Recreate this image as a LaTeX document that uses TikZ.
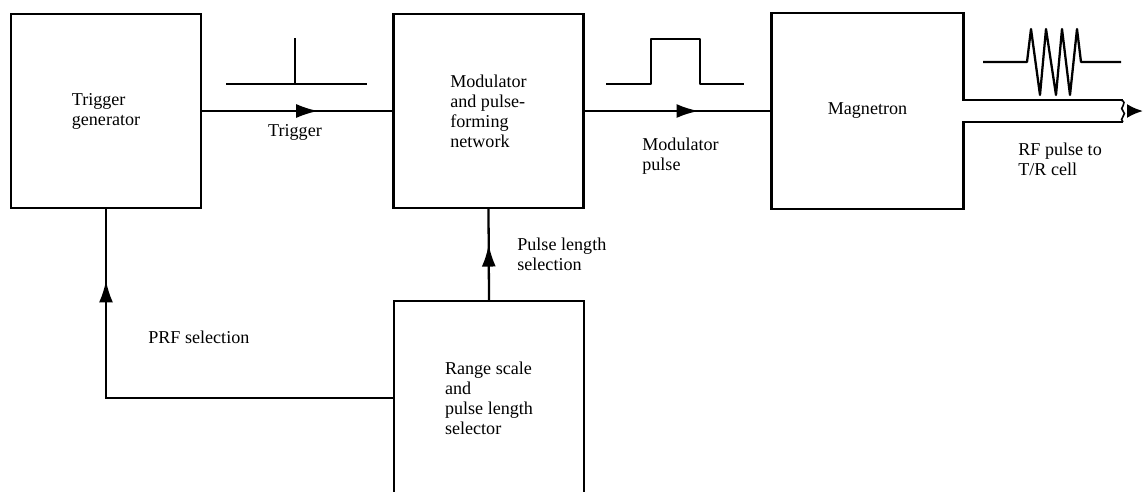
\documentclass[tikz,border=0pt]{standalone}
\usepackage{fontspec}
\setmainfont{Liberation Serif}
\usetikzlibrary{positioning, calc, arrows.meta, decorations.markings}

\begin{document}
\begin{tikzpicture}[
    x=0.02cm, y=-0.02cm,
    font=\fontsize{10.3}{11.4}\selectfont,
    block/.style={draw, line width=1.3pt, align=left,
                  minimum width=3.8cm, minimum height=3.88cm},
    flow/.style={line width=1.3pt, postaction={decorate},
                 decoration={markings, mark=at position #1 with
                   {\arrow{Latex[length=4.4mm, width=2.8mm]}}}},
    wave/.style={line width=1.3pt, line join=round},
    lbl/.style={inner sep=0pt, align=left, anchor=north west},
  ]
  \clip (0,0) rectangle (1143,491);

  % ---------------- Blocks ----------------
  \node[block] (trig)  at (106,111)   {Trigger\\generator};
  \node[block] (mod)   at (488.5,111) {Modulator\\and pulse-\\forming\\network};
  \node[block, draw=none] (mag) at (867.5,111) {Magnetron};
  \node[block] (range) at (489,398)   {Range scale\\and\\pulse length\\selector};

  % magnetron outline, open where the waveguide leaves
  \coordinate (wgend) at (1123,111);
  \coordinate (rfout) at (1143,111);
  \draw[line width=1.3pt]
    ($(wgend)+(0,-11)$) -- ($(mag.east)+(0,-11)$) -- (mag.north east)
    -- (mag.north west) -- (mag.south west) -- (mag.south east)
    -- ($(mag.east)+(0,11)$) -- ($(wgend)+(0,11)$);
  \draw[line width=0.9pt] ($(wgend)+(-2,-11)$)
    .. controls ($(wgend)+(6,-8)$) and ($(wgend)+(-5,-3)$) .. (wgend)
    .. controls ($(wgend)+(5,3)$) and ($(wgend)+(-5,8)$) .. ($(wgend)+(0,11)$);
  \draw[-{Latex[length=3.2mm, width=2.8mm]}, line width=1.3pt, shorten <=0.12cm]
    (wgend) -- (rfout);

  % ---------------- Connections ----------------
  \draw[flow=0.61] (trig.east) -- (mod.west);
  \draw[flow=0.61] (mod.east) -- (mag.west);
  \draw[flow=0.61] (range.north) -- (mod.south);
  \draw[flow=0.85] (range.west) -| (trig.south);

  % ---------------- Waveforms ----------------
  \draw[wave] (226,84) -- (367,84) (295,84) -- (295,38);
  \draw[wave] (606,84) -- (651,84) -- (651,39) -- (700,39) -- (700,84) -- (744,84);
  \draw[wave] (983,62) -- (1027,62) -- (1031,29) -- (1040,95) -- (1046,29)
    -- (1056,95) -- (1062,29) -- (1070,95) -- (1077,29) -- (1081,62) -- (1121,62);

  % ---------------- Labels ----------------
  \node[lbl, anchor=north] (trgl) at (295,124) {Trigger};
  \node[lbl] (modl)   at (642,138)  {Modulator\\pulse};
  \node[lbl] (rfl)    at (1018,143) {RF pulse to\\T/R cell};
  \node[lbl] (plenl)  at (517,238)  {Pulse length\\selection};
  \node[lbl] (prfl)   at (148,331)  {PRF selection};
\end{tikzpicture}
\end{document}
